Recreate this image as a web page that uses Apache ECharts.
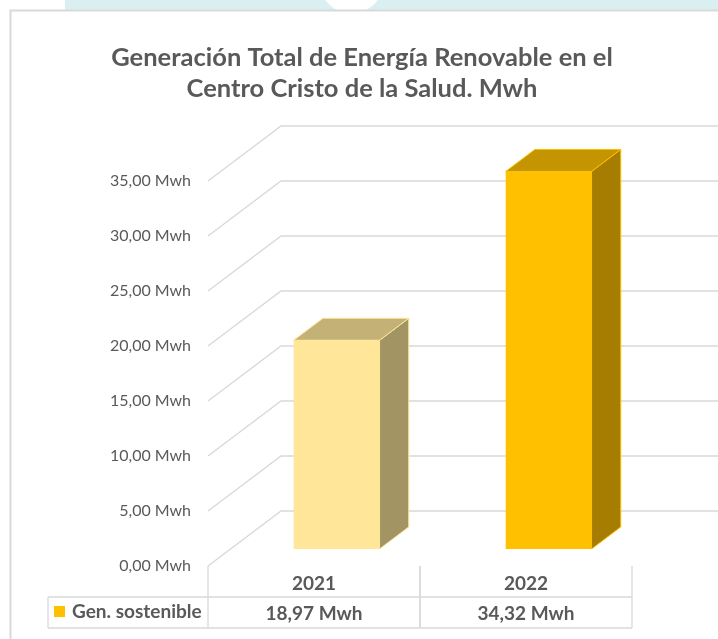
<!DOCTYPE html>
<html>
<head>
<meta charset="utf-8">
<title>Generación Total de Energía Renovable</title>
<script src="https://cdn.jsdelivr.net/npm/echarts@6/dist/echarts.min.js"></script>
<style>
html, body { margin: 0; padding: 0; background: #fff; }
#chart { width: 718px; height: 639px; }
</style>
</head>
<body>
<div id="chart"></div>
<script>
// data
var categories = ['2021', '2022'];
var generation = [18.97, 34.32];
var yTicks = [0, 5, 10, 15, 20, 25, 30, 35];
var seriesName = 'Gen. sostenible';

// faces of each 3d bar
var frontColors = ['#FFE699', '#FFC000'];
var sideColors = ['#A39463', '#A67D00'];
var topColors = ['#C4B175', '#C49500'];

var DEPTH_X = 73, DEPTH_Y = 55;      // full floor depth in px
var BAR_FRONT = 0.31, BAR_BACK = 0.71; // bar position inside that depth
var GRID_COLOR = '#d9d9d9';
var TEXT_COLOR = '#595959';
var FONT = 'Lato, "Open Sans", sans-serif';
var TABLE_FONT = 'bold 19px ' + FONT;

function mwh(v) {
    return v.toFixed(2).replace('.', ',') + ' Mwh';
}

function renderGridLine(params, api) {
    var cs = params.coordSys;
    var p = api.coord([0, api.value(1)]);
    var x0 = cs.x, y0 = p[1];
    return {
        type: 'polyline',
        shape: { points: [[x0, y0], [x0 + DEPTH_X, y0 - DEPTH_Y], [api.getWidth(), y0 - DEPTH_Y]] },
        style: { stroke: GRID_COLOR, lineWidth: 1.3, fill: null }
    };
}

function renderBar(params, api) {
    var i = api.value(0);
    var top = api.coord([i, api.value(1)]);
    var base = api.coord([i, 0]);
    var band = api.size([1, 0])[0];
    var w = band * 0.405;
    var fx = top[0] - w / 2 + DEPTH_X * BAR_FRONT;
    var fy = top[1] - DEPTH_Y * BAR_FRONT;
    var by = base[1] - DEPTH_Y * BAR_FRONT;
    var dx = DEPTH_X * (BAR_BACK - BAR_FRONT);
    var dy = DEPTH_Y * (BAR_BACK - BAR_FRONT);
    var edge = { stroke: frontColors[i], lineWidth: 1 };
    return {
        type: 'group',
        children: [
            {
                type: 'polygon',
                shape: { points: [[fx + w, fy], [fx + w + dx, fy - dy], [fx + w + dx, by - dy], [fx + w, by]] },
                style: Object.assign({ fill: sideColors[i] }, edge)
            },
            {
                type: 'polygon',
                shape: { points: [[fx, fy], [fx + dx, fy - dy], [fx + w + dx, fy - dy], [fx + w, fy]] },
                style: Object.assign({ fill: topColors[i] }, edge)
            },
            {
                type: 'rect',
                shape: { x: fx, y: fy, width: w, height: by - fy },
                style: { fill: frontColors[i] }
            }
        ]
    };
}

function renderTable(params, api) {
    var i = api.value(0);
    var c = api.coord([i, 0]);
    var band = api.size([1, 0])[0];
    var l = c[0] - band / 2, r = c[0] + band / 2;
    var y0 = c[1], y1 = y0 + 31, y2 = y0 + 62;
    var line = { stroke: GRID_COLOR, lineWidth: 1.3 };
    return {
        type: 'group',
        children: [
            { type: 'line', shape: { x1: l, y1: y0, x2: l, y2: y2 }, style: line },
            { type: 'line', shape: { x1: r, y1: y0, x2: r, y2: y2 }, style: line },
            { type: 'line', shape: { x1: l, y1: y1, x2: r, y2: y1 }, style: line },
            { type: 'line', shape: { x1: l, y1: y2, x2: r, y2: y2 }, style: line },
            {
                type: 'text',
                style: {
                    text: mwh(api.value(1)), x: c[0], y: (y1 + y2) / 2 + 1,
                    align: 'center', verticalAlign: 'middle',
                    fill: TEXT_COLOR, font: TABLE_FONT
                }
            }
        ]
    };
}

var chart = echarts.init(document.getElementById('chart'));

var option = {
    animation: false,
    textStyle: { fontFamily: FONT },
    title: {
        text: 'Generación Total de Energía Renovable en el\nCentro Cristo de la Salud. Mwh',
        left: 357,
        top: 37,
        textAlign: 'center',
        textStyle: { color: TEXT_COLOR, fontSize: 25.5, fontWeight: 'bold', lineHeight: 31, fontFamily: FONT }
    },
    legend: {
        data: [{ name: seriesName, icon: 'rect' }],
        left: 54,
        top: 602,
        padding: 0,
        itemWidth: 11,
        itemHeight: 11,
        selectedMode: false,
        textStyle: { color: TEXT_COLOR, fontSize: 19, fontWeight: 'bold', fontFamily: FONT, padding: [0, 0, 0, 2] }
    },
    graphic: [
        { type: 'rect', z: -10, shape: { x: 65, y: 0, width: 653, height: 10 }, style: { fill: '#daeff1' } },
        { type: 'circle', z: -9, shape: { cx: 351.5, cy: -18.5, r: 32 }, style: { fill: '#ffffff' } },
        { type: 'rect', z: -8, shape: { x: 10.5, y: 10.5, width: 800, height: 700 }, style: { fill: '#ffffff', stroke: GRID_COLOR, lineWidth: 2 } },
        { type: 'line', shape: { x1: 48, y1: 597, x2: 208, y2: 597 }, style: { stroke: GRID_COLOR, lineWidth: 1.3 } },
        { type: 'line', shape: { x1: 48, y1: 628, x2: 208, y2: 628 }, style: { stroke: GRID_COLOR, lineWidth: 1.3 } },
        { type: 'line', shape: { x1: 48, y1: 597, x2: 48, y2: 628 }, style: { stroke: GRID_COLOR, lineWidth: 1.3 } }
    ],
    grid: { left: 208, right: 86, top: 181, bottom: 73 },
    xAxis: {
        type: 'category',
        data: categories,
        axisLine: { show: false },
        axisTick: { show: false },
        axisLabel: { margin: 8, color: TEXT_COLOR, fontSize: 19, fontWeight: 'bold', fontFamily: FONT }
    },
    yAxis: {
        type: 'value',
        min: 0,
        max: 35,
        interval: 5,
        splitLine: { show: false },
        axisLine: { show: false },
        axisTick: { show: false },
        axisLabel: { margin: 17, color: TEXT_COLOR, fontSize: 16, fontFamily: FONT, formatter: mwh }
    },
    series: [
        {
            name: 'grid',
            type: 'custom',
            renderItem: renderGridLine,
            data: yTicks.map(function (v) { return [0, v]; }),
            silent: true,
            z: 1
        },
        {
            name: seriesName,
            type: 'custom',
            renderItem: renderBar,
            itemStyle: { color: '#FFC000' },
            data: generation.map(function (v, i) { return [i, v]; }),
            z: 2
        },
        {
            name: 'table',
            type: 'custom',
            renderItem: renderTable,
            data: generation.map(function (v, i) { return [i, v]; }),
            silent: true,
            z: 2
        }
    ]
};

chart.setOption(option);
</script>
</body>
</html>
